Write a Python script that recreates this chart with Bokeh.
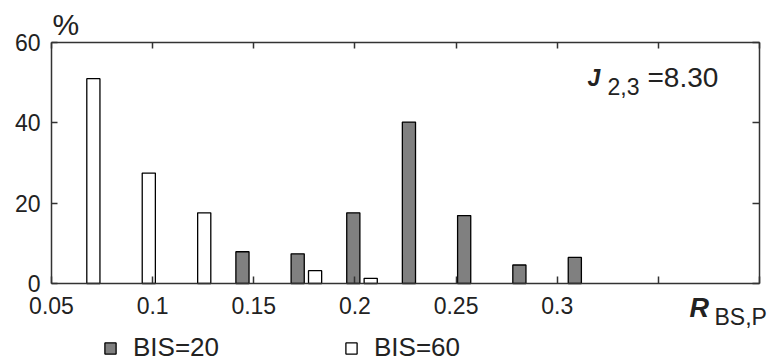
from bokeh.plotting import figure
from bokeh.models import (Range1d, LinearAxis, FixedTicker, Label, Legend,
                          LegendItem, ColumnDataSource)
from bokeh.transform import dodge
from bokeh.embed import file_html
from bokeh.resources import INLINE

# ---- data ----
bin_centers = [0.0664, 0.0938, 0.1212, 0.1487, 0.1760, 0.2035, 0.2310, 0.2583, 0.2856, 0.3130]
bis20 = [0, 0, 0, 7.9, 7.4, 17.6, 40.2, 16.9, 4.6, 6.5]
bis60 = [51.0, 27.5, 17.6, 0, 3.2, 1.3, 0, 0, 0, 0]
series_labels = ["BIS=20", "BIS=60"]
x_ticks = [0.05, 0.1, 0.15, 0.2, 0.25, 0.3, 0.35, 0.4]
x_tick_labels = ["0.05", "0.1", "0.15", "0.2", "0.25", "0.3", "", ""]
y_ticks = [0, 20, 40, 60]
x_lim = (0.05, 0.40)
y_lim = (0, 60)
y_unit = "%"
x_name, x_sub = "R", "BS,P"
j_name, j_sub, j_value = "J", "2,3", "=8.30"

FONT = "Liberation Sans"
TXT = "#222222"
AX = "#333333"
GRAY = "#808080"

# ---- page geometry (pixels) ----
W, H = 771, 361
BOX_L, BOX_R, BOX_T, BOX_B = 51, 759, 42, 283   # axes box inside the canvas
kx = (BOX_R - BOX_L) / (x_lim[1] - x_lim[0])
ky = (BOX_B - BOX_T) / (y_lim[1] - y_lim[0])
x_range = Range1d(x_lim[0] - BOX_L / kx, x_lim[1] + (W - BOX_R) / kx)
y_range = Range1d(y_lim[0] - (H - BOX_B) / ky, y_lim[1] + BOX_T / ky)


def nonzero_source(vals):
    xs = [c for c, v in zip(bin_centers, vals) if v > 0]
    ys = [v for v in vals if v > 0]
    return ColumnDataSource(dict(x=xs, top=ys))


p = figure(width=W, height=H, output_backend="svg", toolbar_location=None,
           x_range=x_range, y_range=y_range,
           x_axis_location=None, y_axis_location=None,
           min_border=0, background_fill_color="white",
           border_fill_color="white", outline_line_color=None)
p.grid.visible = False

bar_w = 0.0065
r20 = p.vbar(x=dodge("x", -0.0043, range=p.x_range), top="top", bottom=0,
             width=bar_w, source=nonzero_source(bis20),
             fill_color=GRAY, line_color="black", line_width=1.3)
r60 = p.vbar(x=dodge("x", 0.0043, range=p.x_range), top="top", bottom=0,
             width=bar_w, source=nonzero_source(bis60),
             fill_color="white", line_color="black", line_width=1.3)


def make_axis(ticks, fixed, bounds, tick_in, standoff, labelled=True):
    ax = LinearAxis(ticker=FixedTicker(ticks=ticks), fixed_location=fixed,
                    bounds=bounds)
    ax.axis_line_color = AX
    ax.axis_line_width = 1.5
    ax.major_tick_line_color = AX
    ax.major_tick_line_width = 1.5
    ax.major_tick_in = tick_in
    ax.major_tick_out = 0
    ax.minor_tick_line_color = None
    ax.major_label_text_font = FONT
    ax.major_label_text_font_size = "23px"
    ax.major_label_text_color = TXT if labelled else None
    ax.major_label_standoff = standoff
    return ax


xa = make_axis(x_ticks, y_lim[0], x_lim, 7, 13)
xa.major_label_overrides = {t: l for t, l in zip(x_ticks, x_tick_labels)}
p.add_layout(xa, "below")
p.add_layout(make_axis(x_ticks, y_lim[1], x_lim, 6, 0, labelled=False), "above")
p.add_layout(make_axis(y_ticks, x_lim[0], y_lim, 6, 11), "left")
p.add_layout(make_axis(y_ticks, x_lim[1], y_lim, 7, 0, labelled=False), "right")

SHIFT = 9  # baseline correction for text rendering


def lab(text, x, baseline, size, style="normal"):
    # screen units: from the canvas' bottom-left corner
    return Label(text=text, x=x, y=H - baseline + SHIFT, x_units="screen",
                 y_units="screen", text_font=FONT, text_font_size=size,
                 text_font_style=style, text_color=TXT,
                 text_baseline="alphabetic")


p.add_layout(lab(y_unit, 52, 33, "30px"))
p.add_layout(lab(x_name, 689, 316, "27px", "bold italic"))
p.add_layout(lab(x_sub, 714, 325, "23px"))
p.add_layout(lab(j_name, 587, 86, "23px", "bold italic"))
p.add_layout(lab(j_sub, 607, 95, "23px"))
p.add_layout(lab(j_value, 647, 86, "28px"))

legend = Legend(items=[LegendItem(label=series_labels[0], renderers=[r20]),
                       LegendItem(label=series_labels[1], renderers=[r60])],
                orientation="horizontal", location=(103, -2),
                glyph_width=14, glyph_height=14, label_standoff=16,
                label_width=200, label_height=30, spacing=11, padding=0,
                margin=0, border_line_color=None, background_fill_alpha=0,
                label_text_font=FONT, label_text_font_size="26px",
                label_text_color=TXT, label_text_baseline="alphabetic")
p.add_layout(legend)

open("out.html", "w").write(file_html(p, INLINE))
